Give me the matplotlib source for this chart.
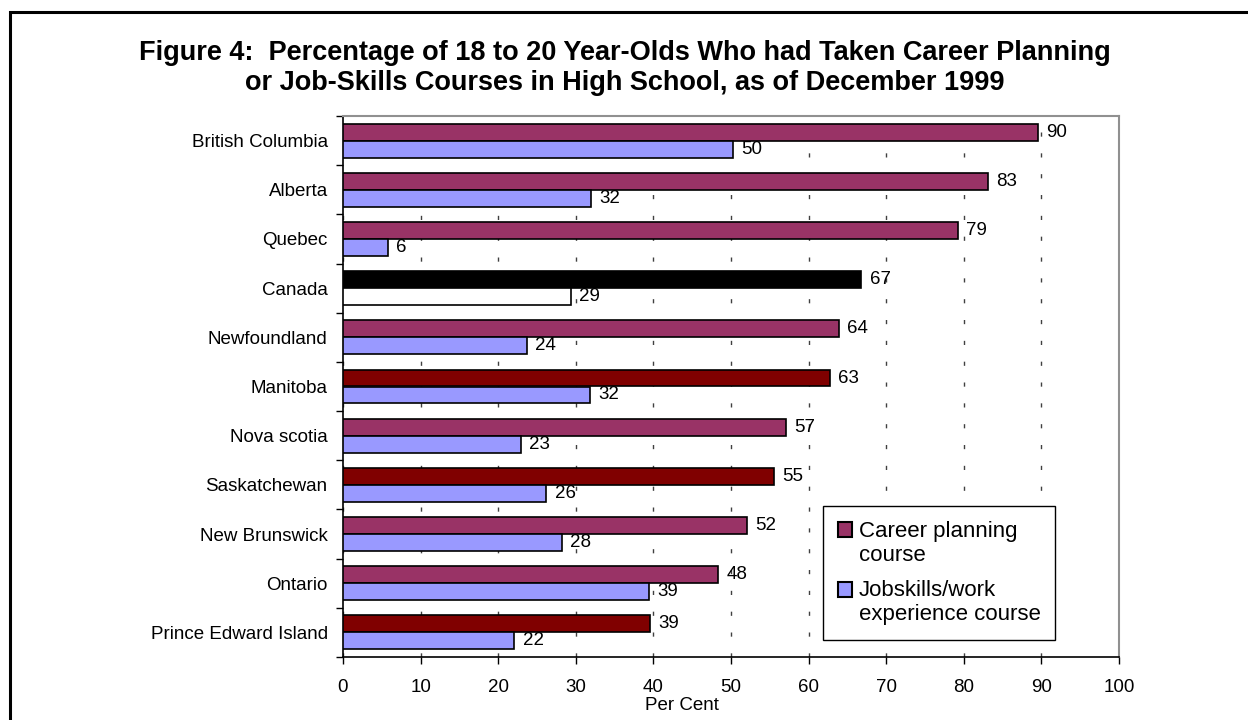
import numpy as np
import matplotlib
matplotlib.use("Agg")
import matplotlib.pyplot as plt
import matplotlib.ticker as ticker
from matplotlib.patches import Rectangle
from matplotlib.legend_handler import HandlerPatch

plt.rcParams["font.family"] = ["Liberation Sans", "DejaVu Sans"]

provinces = ["British Columbia", "Alberta", "Quebec", "Canada", "Newfoundland",
             "Manitoba", "Nova scotia", "Saskatchewan", "New Brunswick",
             "Ontario", "Prince Edward Island"]
career = [89.5, 83.1, 79.2, 66.8, 63.9, 62.7, 57.1, 55.5, 52.0, 48.3, 39.5]
jobskills = [50.2, 32.0, 5.8, 29.4, 23.7, 31.8, 22.9, 26.2, 28.2, 39.4, 22.1]
career_labels = ["90", "83", "79", "67", "64", "63", "57", "55", "52", "48", "39"]
job_labels = ["50", "32", "6", "29", "24", "32", "23", "26", "28", "39", "22"]

# colours per bar (Canada highlighted, some provinces in dark red)
magenta, darkred, lilac = "#993366", "#800000", "#9999FF"
career_colors = [magenta, magenta, magenta, "black", magenta, darkred,
                 magenta, darkred, magenta, magenta, darkred]
job_colors = [lilac, lilac, lilac, "white", lilac, lilac,
              lilac, lilac, lilac, lilac, lilac]


def top_line_square(legend, orig_handle, xdescent, ydescent, width, height, fontsize):
    # put the legend square next to the first line of a two-line label
    return Rectangle((-xdescent, -ydescent + 0.6 * fontsize), width, height)


fig = plt.figure(figsize=(12.48, 7.2), dpi=100)
ax = fig.add_axes([343 / 1248, 63 / 720, 776 / 1248, 541 / 720])

y = np.arange(len(provinces))
h = 0.345
bars1 = ax.barh(y - h / 2, career, height=h, color=career_colors,
                edgecolor="black", linewidth=1.2, zorder=3)
bars2 = ax.barh(y + h / 2, jobskills, height=h, color=job_colors,
                edgecolor="black", linewidth=1.2, zorder=3)
ax.bar_label(bars1, labels=career_labels, padding=6, fontsize=13.5)
ax.bar_label(bars2, labels=job_labels, padding=6, fontsize=13.5)

ax.set_xlim(0, 100)
ax.set_ylim(len(provinces) - 0.5, -0.5)
ax.xaxis.set_major_locator(ticker.MultipleLocator(10))
ax.set_yticks(y)
ax.set_yticklabels(provinces)
ax.set_yticks(np.arange(-0.5, len(provinces)), minor=True)
ax.tick_params(axis="y", which="major", length=0, pad=11, labelsize=13.5)
ax.tick_params(axis="y", which="minor", length=5, width=1, direction="out")
ax.tick_params(axis="x", length=5, width=1, direction="out", pad=11, labelsize=13.5)

ax.grid(True, axis="x", color="#404040", linewidth=1, linestyle=(0, (3, 12)), zorder=0)

for side in ["top", "right"]:
    ax.spines[side].set_color("#909090")
    ax.spines[side].set_linewidth(1.5)
for side in ["left", "bottom"]:
    ax.spines[side].set_color("black")
    ax.spines[side].set_linewidth(1.2)

ax.set_xlabel("Per Cent", fontsize=13.5, labelpad=0)
ax.xaxis.set_label_coords(0.437, -0.074)

handles = [Rectangle((0, 0), 1, 1, facecolor=magenta, edgecolor="black", linewidth=1.5),
           Rectangle((0, 0), 1, 1, facecolor=lilac, edgecolor="black", linewidth=1.5)]
leg = ax.legend(handles, ["Career planning\ncourse", "Jobskills/work\nexperience course"],
                loc="upper left", bbox_to_anchor=(0.619, 0.279), fontsize=16,
                fancybox=False, framealpha=1, edgecolor="black",
                handlelength=0.66, handleheight=0.66, handletextpad=0.3,
                labelspacing=0.65, borderpad=0.65, borderaxespad=0,
                handler_map={Rectangle: HandlerPatch(patch_func=top_line_square)})
leg.get_frame().set_linewidth(1.0)
leg.set_zorder(5)

fig.text(625 / 1248, 1 - 68 / 720,
         "Figure 4:  Percentage of 18 to 20 Year-Olds Who had Taken Career Planning\n"
         "or Job-Skills Courses in High School, as of December 1999",
         ha="center", va="center", fontsize=19.5, fontweight="bold", linespacing=1.15)

# outer frame running off the right and bottom edges
fig.patches.append(Rectangle((10 / 1248, -0.2), 1.3, 1.2 - 12 / 720,
                             transform=fig.transFigure, fill=False,
                             edgecolor="black", linewidth=2.2))

fig.savefig("out.png", dpi=100)
